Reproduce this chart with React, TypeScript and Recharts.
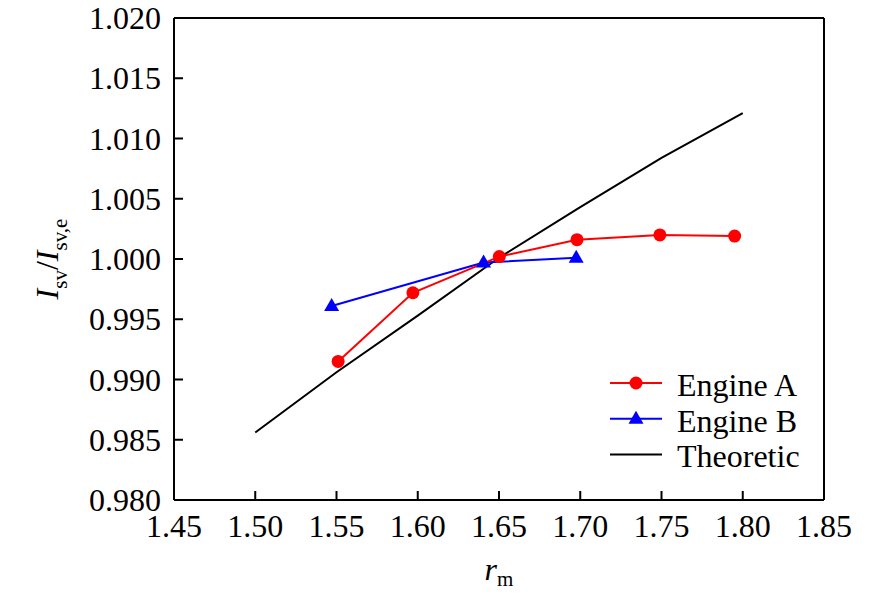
import React from "react";
import {
  LineChart,
  Line,
  XAxis,
  YAxis,
  ReferenceLine,
  Legend,
  Label,
} from "recharts";

const X_TICKS = [1.45, 1.5, 1.55, 1.6, 1.65, 1.7, 1.75, 1.8, 1.85];
const Y_TICKS = [0.98, 0.985, 0.99, 0.995, 1.0, 1.005, 1.01, 1.015, 1.02];

const ENGINE_A_X = [1.551, 1.597, 1.6502, 1.698, 1.749, 1.795];
const ENGINE_A_Y = [0.9915, 0.9972, 1.0002, 1.0016, 1.002, 1.0019];

const ENGINE_B_X = [1.547, 1.6405, 1.6975];
const ENGINE_B_Y = [0.9961, 0.9997, 1.0001];

const THEORY_X = [1.5, 1.55, 1.6, 1.65, 1.7, 1.75, 1.8];
const THEORY_Y = [0.9856, 0.9906, 0.9953, 1.0001, 1.0043, 1.0084, 1.0121];

const zip = (xs: number[], ys: number[]) => xs.map((x, i) => ({ x, y: ys[i] }));

const engineA = zip(ENGINE_A_X, ENGINE_A_Y);
const engineB = zip(ENGINE_B_X, ENGINE_B_Y);
const theory = zip(THEORY_X, THEORY_Y);

const FONT = '"Liberation Serif", "Times New Roman", serif';
const FS = 32;

const TriangleDot = (props: any) => {
  const { cx, cy, fill } = props;
  if (cx == null || cy == null) return null;
  return (
    <polygon
      points={`${cx},${cy - 8} ${cx - 7.5},${cy + 5} ${cx + 7.5},${cy + 5}`}
      fill={fill || "#0000ff"}
      stroke="none"
    />
  );
};

const XTick = (props: any) => {
  const { x, y, payload } = props;
  return (
    <text x={x} y={y} dy={22.7} textAnchor="middle" fontFamily={FONT} fontSize={FS} fill="#000">
      {Number(payload.value).toFixed(2)}
    </text>
  );
};

const YTick = (props: any) => {
  const { x, y, payload } = props;
  return (
    <text x={x} y={y} dy={11} textAnchor="end" fontFamily={FONT} fontSize={FS} fill="#000">
      {Number(payload.value).toFixed(3)}
    </text>
  );
};

const YLabel = () => {
  const cy = 251;
  const x = 50;
  return (
    <text
      x={x}
      y={cy}
      transform={`rotate(-90, ${x}, ${cy})`}
      textAnchor="middle"
      fontFamily={FONT}
      fontSize={FS}
      fill="#000"
    >
      <tspan fontStyle="italic">I</tspan>
      <tspan fontSize={21} dy={9}>sv</tspan>
      <tspan dy={-9}>/</tspan>
      <tspan fontStyle="italic">I</tspan>
      <tspan fontSize={21} dy={9}>sv,e</tspan>
    </text>
  );
};

const XLabel = () => {
  const x = 491;
  const y = 572;
  return (
    <text x={x} y={y} textAnchor="middle" fontFamily={FONT} fontSize={FS} fill="#000">
      <tspan fontStyle="italic">r</tspan>
      <tspan fontSize={21} dy={6}>m</tspan>
    </text>
  );
};

const renderLegend = (props: any) => {
  const { payload } = props;
  return (
    <svg width={240} height={108} style={{ display: "block" }}>
      {(payload || []).map((entry: any, i: number) => {
        const cy = 16 + i * 35.7;
        return (
          <g key={i}>
            <line x1={0} y1={cy} x2={52} y2={cy} stroke={entry.color} strokeWidth={2} />
            {entry.type === "circle" && <circle cx={26} cy={cy} r={6.5} fill={entry.color} />}
            {entry.type === "triangle" && (
              <polygon points={`26,${cy - 8} 18.5,${cy + 5} 33.5,${cy + 5}`} fill={entry.color} />
            )}
            <text x={67} y={cy + 13} fontFamily={FONT} fontSize={FS} fill="#000">
              {entry.value}
            </text>
          </g>
        );
      })}
    </svg>
  );
};

export default function App() {
  return (
    <LineChart
      width={878}
      height={587}
      margin={{ top: 10, right: 62, left: 66, bottom: 35 }}
    >
      <XAxis
        dataKey="x"
        type="number"
        domain={[1.45, 1.85]}
        ticks={X_TICKS}
        allowDataOverflow
        height={60}
        tickSize={-9}
        tickMargin={23}
        tick={<XTick />}
        axisLine={{ stroke: "#000", strokeWidth: 2 }}
        tickLine={{ stroke: "#000", strokeWidth: 2 }}
        interval={0}
      >
        <Label content={<XLabel />} />
      </XAxis>
      <YAxis
        dataKey="y"
        type="number"
        domain={[0.98, 1.02]}
        ticks={Y_TICKS}
        allowDataOverflow
        width={100}
        tickSize={-9}
        tickMargin={22}
        tick={<YTick />}
        axisLine={{ stroke: "#000", strokeWidth: 2 }}
        tickLine={{ stroke: "#000", strokeWidth: 2 }}
        interval={0}
      >
        <Label content={<YLabel />} />
      </YAxis>
      <ReferenceLine y={1.02} stroke="#000" strokeWidth={2} />
      <ReferenceLine x={1.85} stroke="#000" strokeWidth={2} />
      <Line
        data={theory}
        dataKey="y"
        name="Theoretic"
        stroke="#000"
        strokeWidth={2}
        dot={false}
        legendType="line"
        isAnimationActive={false}
      />
      <Line
        data={engineB}
        dataKey="y"
        name="Engine B"
        stroke="#0000ff"
        strokeWidth={2}
        dot={<TriangleDot fill="#0000ff" />}
        activeDot={false}
        legendType="triangle"
        isAnimationActive={false}
      />
      <Line
        data={engineA}
        dataKey="y"
        name="Engine A"
        stroke="#ff0000"
        strokeWidth={2}
        dot={{ r: 6.5, fill: "#ff0000", stroke: "none" }}
        activeDot={false}
        legendType="circle"
        isAnimationActive={false}
      />
      <Legend
        layout="vertical"
        align="center"
        verticalAlign="middle"
        content={renderLegend}
        itemSorter={(item: any) => {
          const order: Record<string, number> = { "Engine A": 0, "Engine B": 1, Theoretic: 2 };
          return order[item.value] ?? 9;
        }}
        wrapperStyle={{ left: 602, top: 359, width: "auto", height: "auto" }}
      />
    </LineChart>
  );
}
